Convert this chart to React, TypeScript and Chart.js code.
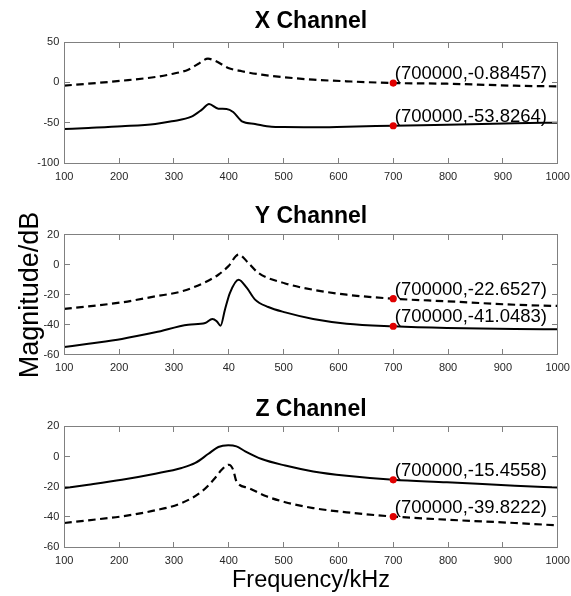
import React, { useEffect, useRef } from "react";
import { Chart, registerables } from "chart.js";

Chart.register(...registerables);

const FONT = "'Liberation Sans', Arial, Helvetica, sans-serif";
const AXIS_COLOR = "#808080";
const TICK_TEXT = "#262626";
const MARK_COLOR = "#e00000";

// ---------- X channel ----------
const xDashedFreq = [100, 144, 205, 266, 296, 326, 344, 362, 375, 399, 424, 460, 503, 554, 615, 700, 798, 922, 1000];
const xDashedMag = [-4, -1.7, 2.0, 6.6, 10.3, 15.7, 22.7, 29.3, 26.8, 17.8, 13.7, 9.5, 6.2, 3.3, 1.3, -0.88457, -1.7, -4.2, -5];
const xSolidFreq = [100, 144, 205, 266, 296, 332, 351, 364, 381, 396, 408, 424, 448, 478, 500, 554, 615, 700, 798, 922, 1000];
const xSolidMag = [-58, -56.6, -54.5, -51.6, -48.3, -42.6, -33.9, -26.9, -32.7, -33, -36.8, -48.3, -51.6, -55, -55.5, -55.7, -55, -53.8264, -52.5, -50.8, -50];
const xMarkerMag = [-0.88457, -53.8264];
const xTickLabels = ["100", "200", "300", "400", "500", "600", "700", "800", "900", "1000"];

// ---------- Y channel ----------
const yDashedFreq = [100, 144, 205, 266, 314, 351, 381, 399, 418, 436, 454, 503, 554, 615, 700, 798, 922, 1000];
const yDashedMag = [-29.5, -27.8, -25.1, -21.1, -17.8, -12.7, -6.7, -1.1, 6.7, 1.1, -5.5, -12.5, -16.7, -20, -22.6527, -24.4, -26.7, -27.5];
const ySolidFreq = [100, 144, 205, 266, 326, 357, 370, 378, 385, 393, 402, 418, 433, 448, 472, 503, 554, 615, 700, 798, 922, 1000];
const ySolidMag = [-54.9, -52.7, -49.5, -45.1, -40, -38.9, -36.2, -37.7, -40.7, -30, -18.9, -10, -15.5, -23.3, -28.2, -31.8, -36.2, -39.3, -41.0483, -42.2, -42.9, -43];
const yMarkerMag = [-22.6527, -41.0483];
const yTickLabels = ["100", "200", "300", "40", "500", "600", "700", "800", "900", "1000"];

// ---------- Z channel ----------
const zSolidFreq = [100, 144, 205, 266, 314, 339, 363, 381, 399, 414, 430, 460, 503, 554, 615, 700, 798, 922, 1000];
const zSolidMag = [-20.9, -18.7, -15.4, -11.4, -7.6, -4.3, 1.8, 6.3, 7.4, 6.7, 3.4, -1.7, -6, -9.9, -12.8, -15.4558, -17.1, -19.4, -20.6];
const zDashedFreq = [100, 144, 205, 266, 314, 351, 375, 387, 400, 408, 414, 436, 466, 503, 554, 615, 700, 798, 922, 1000];
const zDashedMag = [-44.1, -42.3, -39.7, -35.7, -30.9, -23.1, -14.3, -8.8, -5.5, -8.8, -16.5, -20.9, -26, -30.3, -34.2, -37, -39.8222, -41.9, -44.1, -45.7];
const zMarkerMag = [-15.4558, -39.8222];
const zTickLabels = ["100", "200", "300", "400", "500", "600", "700", "800", "900", "1000"];

const markerFreq = 700;
const titles = ["X Channel", "Y Channel", "Z Channel"];
const yAxisTitle = "Magnitude/dB";
const xAxisTitle = "Frequency/kHz";

type Extra = { text: string; x: number; y: number; size: number; rotate?: boolean };

type Spec = {
  key: string;
  title: string;
  titleGap: number;
  top: number;
  height: number;
  padTop: number;
  xHeight: number;
  yMin: number;
  yMax: number;
  yStep: number;
  tickLabels: string[];
  solid: { f: number[]; m: number[] };
  dashed: { f: number[]; m: number[] };
  markers: number[];
  extras: Extra[];
};

const toPts = (f: number[], m: number[]) => f.map((x, i) => ({ x, y: m[i] }));

function makeChart(canvas: HTMLCanvasElement, s: Spec) {
  const plugin = {
    id: "matlabDecor" + s.key,
    afterDraw(chart: any) {
      const { ctx, chartArea: a, scales } = chart;
      const xs = scales.x;
      const ys = scales.y;
      ctx.save();
      ctx.strokeStyle = AXIS_COLOR;
      ctx.lineWidth = 1;
      const L = Math.floor(a.left) + 0.5;
      const R = Math.floor(a.right) + 0.5;
      const T = Math.floor(a.top) + 0.5;
      const B = Math.floor(a.bottom) + 0.5;
      ctx.strokeRect(L, T, R - L, B - T);
      const tl = 5.5;
      ctx.beginPath();
      xs.ticks.forEach((t: any) => {
        const px = Math.floor(xs.getPixelForValue(t.value)) + 0.5;
        ctx.moveTo(px, B);
        ctx.lineTo(px, B - tl);
        ctx.moveTo(px, T);
        ctx.lineTo(px, T + tl);
      });
      ys.ticks.forEach((t: any) => {
        const py = Math.floor(ys.getPixelForValue(t.value)) + 0.5;
        ctx.moveTo(L, py);
        ctx.lineTo(L + tl, py);
        ctx.moveTo(R, py);
        ctx.lineTo(R - tl, py);
      });
      ctx.stroke();

      // title
      ctx.fillStyle = "#000";
      ctx.font = `bold 23px ${FONT}`;
      ctx.textAlign = "center";
      ctx.textBaseline = "alphabetic";
      ctx.fillText(s.title, (a.left + a.right) / 2, a.top - s.titleGap);

      // data tip labels
      ctx.font = `18.5px ${FONT}`;
      ctx.textAlign = "left";
      s.markers.forEach((v) => {
        const px = xs.getPixelForValue(markerFreq);
        const py = ys.getPixelForValue(v);
        ctx.fillText(`(${markerFreq * 1000},${v})`, px + 1.5, py - 4);
      });

      // axis labels
      ctx.textAlign = "center";
      ctx.textBaseline = "alphabetic";
      s.extras.forEach((e) => {
        ctx.save();
        ctx.font = `${e.size}px ${FONT}`;
        ctx.translate(e.x, e.y);
        if (e.rotate) ctx.rotate(-Math.PI / 2);
        ctx.fillText(e.text, 0, 0);
        ctx.restore();
      });
      ctx.restore();
    },
  };

  const tickFont = { family: FONT, size: 11 };

  return new Chart(canvas, {
    type: "line",
    data: {
      datasets: [
        {
          label: "markers",
          data: s.markers.map((v) => ({ x: markerFreq, y: v })),
          showLine: false,
          pointRadius: 3.6,
          pointBackgroundColor: MARK_COLOR,
          pointBorderWidth: 0,
          borderColor: MARK_COLOR,
        },
        {
          label: "solid",
          data: toPts(s.solid.f, s.solid.m),
          borderColor: "#000",
          borderWidth: 2,
          pointRadius: 0,
          fill: false,
          cubicInterpolationMode: "monotone",
        },
        {
          label: "dashed",
          data: toPts(s.dashed.f, s.dashed.m),
          borderColor: "#000",
          borderWidth: 2.2,
          borderDash: [7.5, 4.5],
          pointRadius: 0,
          fill: false,
          cubicInterpolationMode: "monotone",
        },
      ],
    },
    options: {
      responsive: false,
      animation: false,
      devicePixelRatio: 1,
      layout: { padding: { top: s.padTop, right: 13.3, left: 0, bottom: 0 } },
      plugins: {
        legend: { display: false },
        tooltip: { enabled: false },
        title: { display: false },
      },
      scales: {
        x: {
          type: "linear",
          min: 100,
          max: 1000,
          grid: { display: false, drawTicks: false },
          border: { display: false },
          ticks: {
            stepSize: 100,
            autoSkip: false,
            maxRotation: 0,
            padding: 7,
            color: TICK_TEXT,
            font: tickFont,
            callback: (_v: any, i: number) => s.tickLabels[i],
          },
          afterFit: (sc: any) => {
            sc.height = s.xHeight;
            sc.paddingLeft = 0;
            sc.paddingRight = 0;
          },
        },
        y: {
          type: "linear",
          min: s.yMin,
          max: s.yMax,
          grid: { display: false, drawTicks: false },
          border: { display: false },
          ticks: {
            stepSize: s.yStep,
            autoSkip: false,
            padding: 5,
            color: TICK_TEXT,
            font: tickFont,
          },
          afterFit: (sc: any) => {
            sc.width = 64.3;
            sc.paddingTop = 0;
            sc.paddingBottom = 0;
          },
        },
      },
    } as any,
    plugins: [plugin],
  });
}

const specs: Spec[] = [
  {
    key: "x",
    title: titles[0],
    titleGap: 14,
    top: 0,
    height: 195,
    padTop: 42,
    xHeight: 32,
    yMin: -100,
    yMax: 50,
    yStep: 50,
    tickLabels: xTickLabels,
    solid: { f: xSolidFreq, m: xSolidMag },
    dashed: { f: xDashedFreq, m: xDashedMag },
    markers: xMarkerMag,
    extras: [],
  },
  {
    key: "y",
    title: titles[1],
    titleGap: 12,
    top: 195,
    height: 195,
    padTop: 39.7,
    xHeight: 35.3,
    yMin: -60,
    yMax: 20,
    yStep: 20,
    tickLabels: yTickLabels,
    solid: { f: ySolidFreq, m: ySolidMag },
    dashed: { f: yDashedFreq, m: yDashedMag },
    markers: yMarkerMag,
    extras: [{ text: yAxisTitle, x: 38, y: 100, size: 27, rotate: true }],
  },
  {
    key: "z",
    title: titles[2],
    titleGap: 10,
    top: 390,
    height: 206,
    padTop: 36.3,
    xHeight: 49,
    yMin: -60,
    yMax: 20,
    yStep: 20,
    tickLabels: zTickLabels,
    solid: { f: zSolidFreq, m: zSolidMag },
    dashed: { f: zDashedFreq, m: zDashedMag },
    markers: zMarkerMag,
    extras: [{ text: xAxisTitle, x: 311, y: 196.5, size: 23.5 }],
  },
];

function Panel({ spec }: { spec: Spec }) {
  const ref = useRef<HTMLCanvasElement | null>(null);
  useEffect(() => {
    if (!ref.current) return;
    const c = makeChart(ref.current, spec);
    return () => c.destroy();
  }, [spec]);
  return (
    <canvas
      ref={ref}
      width={571}
      height={spec.height}
      style={{ position: "absolute", left: 0, top: spec.top, width: 571, height: spec.height, display: "block" }}
    />
  );
}

export default function App() {
  return (
    <div style={{ position: "absolute", left: 0, top: 0, width: 571, height: 596, background: "#fff", overflow: "hidden" }}>
      {specs.map((s) => (
        <Panel key={s.key} spec={s} />
      ))}
    </div>
  );
}
